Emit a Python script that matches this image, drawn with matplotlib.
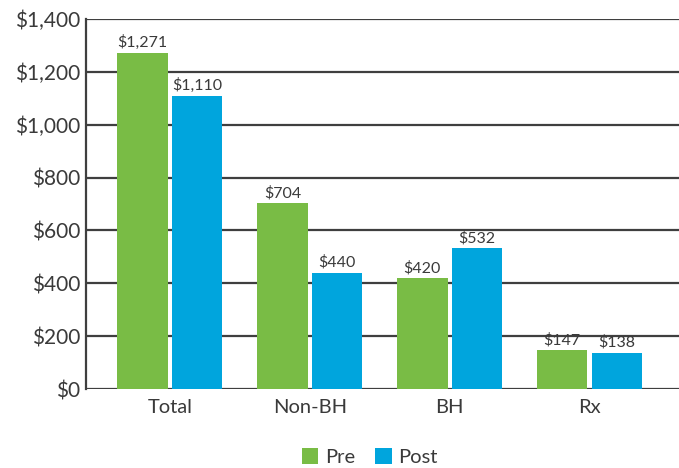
import matplotlib
matplotlib.use("Agg")
import matplotlib.pyplot as plt
import numpy as np

categories = ["Total", "Non-BH", "BH", "Rx"]
pre_vals = [1271, 704, 420, 147]
post_vals = [1110, 440, 532, 138]
series_names = ["Pre", "Post"]

GREEN = "#79bc45"
BLUE = "#00a5dd"
GRID = "#3f3f3f"
TEXT = "#3a3a3a"

plt.rcParams["font.family"] = ["Lato", "DejaVu Sans"]


def main():
    fig = plt.figure(figsize=(6.79, 4.68), dpi=100)
    ax = fig.add_axes([86 / 679, 1 - 389 / 468, 1 - 86 / 679, 370 / 468])

    x = np.arange(len(categories))
    w = 0.36
    off = w / 2 + 0.015
    bars_pre = ax.bar(x - off, pre_vals, w, color=GREEN, label=series_names[0], zorder=3)
    bars_post = ax.bar(x + off, post_vals, w, color=BLUE, label=series_names[1], zorder=3)

    # value labels above each bar
    for bars in (bars_pre, bars_post):
        for b in bars:
            ax.annotate("${:,}".format(int(b.get_height())),
                        (b.get_x() + b.get_width() / 2, b.get_height()),
                        xytext=(0, 2), textcoords="offset points",
                        ha="center", va="bottom", fontsize=11.5, color=TEXT)

    ax.set_ylim(0, 1400)
    ax.set_yticks(range(0, 1401, 200))
    ax.set_yticklabels(["${:,}".format(v) for v in range(0, 1401, 200)])
    ax.set_xlim(-0.6, 3.64)
    ax.set_xticks(x)
    ax.set_xticklabels(categories)

    ax.yaxis.grid(True, color=GRID, linewidth=1.6, zorder=0)
    ax.set_axisbelow(True)
    for s in ("top", "right", "bottom"):
        ax.spines[s].set_visible(False)
    ax.spines["left"].set_color(GRID)
    ax.spines["left"].set_linewidth(1.6)
    ax.tick_params(axis="both", length=0, colors=TEXT)
    ax.tick_params(axis="y", pad=4, labelsize=15)
    ax.tick_params(axis="x", pad=7, labelsize=14.5)

    fig.legend(handles=[bars_pre, bars_post], labels=series_names,
               loc="center", bbox_to_anchor=(370 / 679, 1 - 457 / 468),
               ncol=2, frameon=False, fontsize=14.5, handlelength=0.8,
               handleheight=0.8, handletextpad=0.35, columnspacing=1.0,
               labelcolor=TEXT)

    fig.savefig("out.png", dpi=100)


if __name__ == "__main__":
    main()
